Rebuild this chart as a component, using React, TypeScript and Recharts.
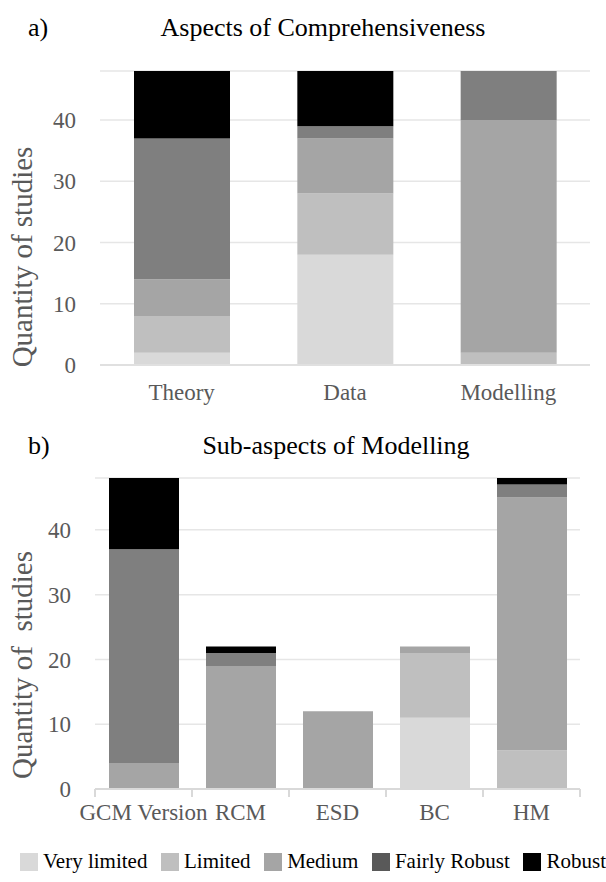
import React from 'react';
import { BarChart, Bar, XAxis, YAxis, CartesianGrid } from 'recharts';

// a) Aspects of Comprehensiveness
const aspectCategories = ['Theory', 'Data', 'Modelling'];
const aspectVeryLimited = [2, 18, 0];
const aspectLimited = [6, 10, 2];
const aspectMedium = [6, 9, 38];
const aspectFairlyRobust = [23, 2, 8];
const aspectRobust = [11, 9, 0];

// b) Sub-aspects of Modelling
const subCategories = ['GCM Version', 'RCM', 'ESD', 'BC', 'HM'];
const subVeryLimited = [0, 0, 0, 11, 0];
const subLimited = [0, 0, 0, 10, 6];
const subMedium = [4, 19, 12, 1, 39];
const subFairlyRobust = [33, 2, 0, 0, 2];
const subRobust = [11, 1, 0, 0, 1];

const yTicks = [0, 10, 20, 30, 40];

const seriesKeys = ['veryLimited', 'limited', 'medium', 'fairlyRobust', 'robust'];
const seriesNames = ['Very limited', 'Limited', 'Medium', 'Fairly Robust', 'Robust'];
const barColors = ['#d9d9d9', '#bfbfbf', '#a5a5a5', '#7f7f7f', '#000000'];
const legendColors = ['#d9d9d9', '#bfbfbf', '#a5a5a5', '#595959', '#000000'];

const FONT = "'Liberation Serif', 'Times New Roman', Tinos, Times, 'Noto Serif', 'DejaVu Serif', serif";
const TEXT_GRAY = '#595959';

const build = (cats: string[], cols: number[][]) =>
  cats.map((name, i) => {
    const row: Record<string, any> = { name };
    seriesKeys.forEach((k, j) => {
      row[k] = cols[j][i];
    });
    return row;
  });

const aspectData = build(aspectCategories, [
  aspectVeryLimited,
  aspectLimited,
  aspectMedium,
  aspectFairlyRobust,
  aspectRobust,
]);
const subData = build(subCategories, [
  subVeryLimited,
  subLimited,
  subMedium,
  subFairlyRobust,
  subRobust,
]);

// excel-style tick marks sit between categories, not under them
const BoundaryTick = (props: any) => {
  const { x, y, payload, index, visibleTicksCount } = props;
  const half = payload.offset || 0;
  const isLast = index === visibleTicksCount - 1;
  return (
    <g>
      <line x1={x - half} x2={x - half} y1={y - 8} y2={y} stroke="#d9d9d9" strokeWidth={2} />
      {isLast && (
        <line x1={x + half} x2={x + half} y1={y - 8} y2={y} stroke="#d9d9d9" strokeWidth={2} />
      )}
      <text x={x} y={y + 7} textAnchor="middle" dominantBaseline="hanging" fill={TEXT_GRAY} fontSize={23} fontFamily={FONT}>
        {payload.value}
      </text>
    </g>
  );
};

const titleStyle: React.CSSProperties = {
  position: 'absolute',
  fontFamily: FONT,
  fontSize: 26,
  color: '#000',
  whiteSpace: 'nowrap',
};

const yLabelStyle = (cy: number): React.CSSProperties => ({
  position: 'absolute',
  left: 22,
  top: cy,
  transform: 'translate(-50%, -50%) rotate(-90deg)',
  fontFamily: FONT,
  fontSize: 29,
  color: TEXT_GRAY,
  whiteSpace: 'pre',
});

export default function App() {
  return (
    <div style={{ position: 'absolute', left: 0, top: 0, width: 606, height: 882, background: '#fff', fontFamily: FONT }}>
      <div style={{ ...titleStyle, left: 28, top: 13 }}>a)</div>
      <div style={{ ...titleStyle, left: 323, top: 13, transform: 'translateX(-50%)' }}>Aspects of Comprehensiveness</div>
      <div style={yLabelStyle(257)}>Quantity of studies</div>

      <div style={{ position: 'absolute', left: 0, top: 0 }}>
        <BarChart width={606} height={420} data={aspectData} margin={{ top: 71, right: 16, left: 0, bottom: 15 }}>
          <CartesianGrid vertical={false} stroke="#e6e6e6" strokeWidth={1.5} />
          <XAxis
            dataKey="name"
            height={40}
            axisLine={{ stroke: '#e0e0e0', strokeWidth: 2 }}
            tickLine={false}
            tickMargin={13}
            tick={{ fill: TEXT_GRAY, fontSize: 23, fontFamily: FONT }}
          />
          <YAxis
            width={100}
            domain={[0, 48]}
            ticks={yTicks}
            axisLine={false}
            tickLine={false}
            tickMargin={18}
            tick={{ fill: TEXT_GRAY, fontSize: 23, fontFamily: FONT }}
          />
          {seriesKeys.map((k, i) => (
            <Bar key={k} dataKey={k} name={seriesNames[i]} stackId="a" fill={barColors[i]} barSize={96} isAnimationActive={false} />
          ))}
        </BarChart>
      </div>

      <div style={{ ...titleStyle, left: 28, top: 431 }}>b)</div>
      <div style={{ ...titleStyle, left: 336, top: 431, transform: 'translateX(-50%)' }}>Sub-aspects of Modelling</div>
      <div style={yLabelStyle(665)}>{'Quantity of  studies'}</div>

      <div style={{ position: 'absolute', left: 0, top: 420 }}>
        <BarChart width={606} height={440} data={subData} margin={{ top: 58, right: 26, left: 0, bottom: 31 }}>
          <CartesianGrid vertical={false} stroke="#e6e6e6" strokeWidth={1.5} />
          <XAxis
            dataKey="name"
            height={40}
            axisLine={{ stroke: '#d9d9d9', strokeWidth: 2 }}
            tickLine={false}
            interval={0}
            tick={<BoundaryTick />}
          />
          <YAxis
            width={95}
            domain={[0, 48]}
            ticks={yTicks}
            axisLine={false}
            tickLine={false}
            tickMargin={18}
            tick={{ fill: TEXT_GRAY, fontSize: 23, fontFamily: FONT }}
          />
          {seriesKeys.map((k, i) => (
            <Bar key={k} dataKey={k} name={seriesNames[i]} stackId="b" fill={barColors[i]} barSize={70} isAnimationActive={false} />
          ))}
        </BarChart>
      </div>

      <div
        style={{
          position: 'absolute',
          left: 20,
          top: 849,
          width: 586,
          display: 'flex',
          justifyContent: 'space-between',
          alignItems: 'center',
          fontFamily: FONT,
          fontSize: 21,
          color: '#000',
          whiteSpace: 'nowrap',
        }}
      >
        {seriesNames.map((n, i) => (
          <span key={n} style={{ display: 'inline-flex', alignItems: 'center' }}>
            <span style={{ display: 'inline-block', width: 18, height: 18, background: legendColors[i], marginRight: 5 }} />
            {n}
          </span>
        ))}
      </div>
    </div>
  );
}
